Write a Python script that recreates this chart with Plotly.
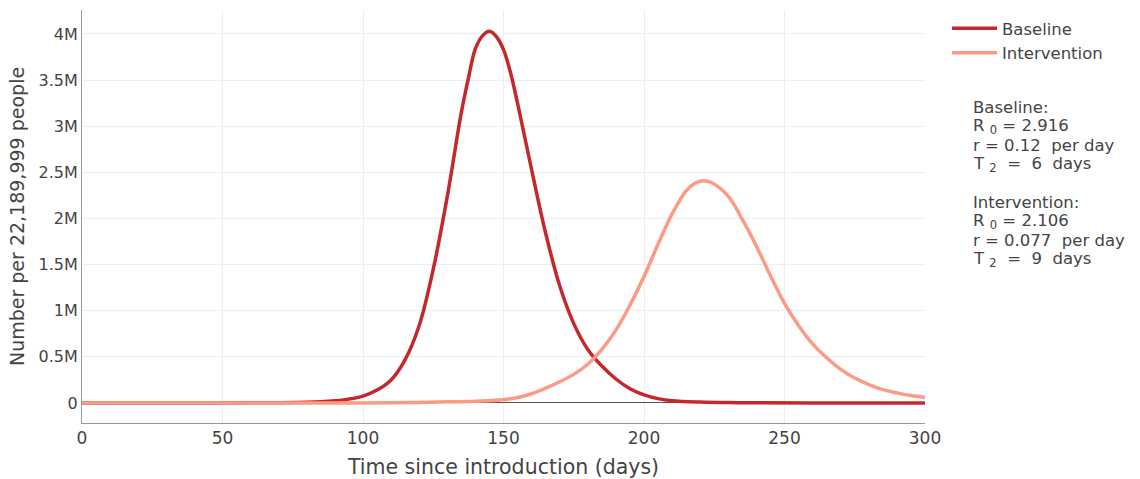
import plotly.graph_objects as go

# Baseline curve (days, millions of people)
baseline_days = [0, 50, 70, 80, 85, 90, 95, 100, 105, 110, 115, 120, 125, 130, 135, 137.5, 140, 142.5,
                 145, 147.5, 150, 152.5, 155, 160, 165, 170, 175, 180, 185, 190, 195, 200, 205, 210,
                 220, 230, 240, 260, 300]
baseline_vals = [0, 0.0005, 0.003, 0.007, 0.013, 0.024, 0.042, 0.075, 0.14, 0.25, 0.47, 0.84, 1.45,
                 2.24, 3.15, 3.52, 3.84, 3.98, 4.03, 3.97, 3.83, 3.58, 3.25, 2.53, 1.84, 1.27, 0.86,
                 0.58, 0.40, 0.26, 0.155, 0.088, 0.047, 0.025, 0.01, 0.004, 0.002, 0.0005, 0.0]

# Intervention curve (days, millions of people)
interv_days = [0, 50, 100, 120, 130, 140, 150, 155, 160, 165, 170, 175, 180, 185, 190, 195, 200, 205,
               210, 215, 218, 221, 224, 230, 235, 240, 245, 250, 255, 260, 265, 270, 275, 280, 285,
               290, 295, 300]
interv_vals = [0, 0.0002, 0.001, 0.006, 0.012, 0.02, 0.035, 0.06, 0.10, 0.16, 0.23, 0.31, 0.42, 0.58,
               0.79, 1.06, 1.37, 1.72, 2.05, 2.30, 2.38, 2.41, 2.39, 2.24, 1.99, 1.70, 1.38, 1.08,
               0.84, 0.64, 0.49, 0.365, 0.27, 0.20, 0.145, 0.11, 0.08, 0.06]

y_tickvals_m = [0, 0.5, 1, 1.5, 2, 2.5, 3, 3.5, 4]
y_ticktext = ["0", "0.5M", "1M", "1.5M", "2M", "2.5M", "3M", "3.5M", "4M"]
x_tickvals = [0, 50, 100, 150, 200, 250, 300]

note_lines = ["Baseline:", "R <sub>0</sub> = 2.916", "r = 0.12&nbsp; per day", "T <sub>2</sub> &nbsp;=&nbsp; 6&nbsp; days",
              "Intervention:", "R <sub>0</sub> = 2.106", "r = 0.077&nbsp; per day", "T <sub>2</sub> &nbsp;=&nbsp; 9&nbsp; days"]
note_slots = [0, 1, 2, 3, 5, 6, 7, 8]  # line slots (blank line between blocks)

M = 1_000_000
fig = go.Figure()
fig.add_trace(go.Scatter(x=baseline_days, y=[v * M for v in baseline_vals], mode="lines",
                         name="Baseline", line=dict(color="#c5282c", width=3.5, shape="spline")))
fig.add_trace(go.Scatter(x=interv_days, y=[v * M for v in interv_vals], mode="lines",
                         name="Intervention", line=dict(color="#fc9a84", width=3.5, shape="spline")))

# page body margin is removed below, so figure px == screenshot px
W, H = 1140, 479
L, R, T, B = 82, 215, 10, 56
plot_w, plot_h = W - L - R, H - T - B


def px_to_paper(xs, ys):
    return (xs - L) / plot_w, 1 - (ys - T) / plot_h


font = "DejaVu Sans, Verdana, sans-serif"
annotations = []
for line, slot in zip(note_lines, note_slots):
    ax, ay = px_to_paper(971, 107 + slot * 19.1)
    annotations.append(dict(
        x=ax, y=ay, xref="paper", yref="paper",
        xanchor="left", yanchor="middle", align="left", showarrow=False,
        font=dict(size=16.5, color="#444", family=font), text=line))

lx, ly = px_to_paper(947, 11)
fig.update_layout(
    width=W, height=H,
    margin=dict(l=L, r=R, t=T, b=B),
    paper_bgcolor="white", plot_bgcolor="white",
    font=dict(family=font, size=17, color="#444"),
    legend=dict(x=lx, y=ly, xanchor="left", yanchor="top", itemwidth=45,
                font=dict(size=16.5), bgcolor="rgba(0,0,0,0)"),
    xaxis=dict(range=[0, 300], tickvals=x_tickvals, showgrid=True, gridcolor="#eeeeee",
               zeroline=False, showline=True, linecolor="#999", linewidth=1,
               ticks="", tickfont=dict(size=17), automargin=False,
               title=dict(text="Time since introduction (days)", font=dict(size=20.5), standoff=14)),
    yaxis=dict(range=[-0.217 * M, 4.26 * M], tickvals=[v * M for v in y_tickvals_m],
               ticktext=y_ticktext, showgrid=True, gridcolor="#eeeeee",
               zeroline=True, zerolinecolor="#555", zerolinewidth=1, automargin=False,
               showline=True, linecolor="#999", linewidth=1, tickfont=dict(size=16),
               title=dict(text="Number per 22,189,999 people", font=dict(size=19), standoff=8)),
    annotations=annotations,
)

fig.write_html("out.html", config={"displayModeBar": False},
               post_script="document.body.style.margin='0';")
